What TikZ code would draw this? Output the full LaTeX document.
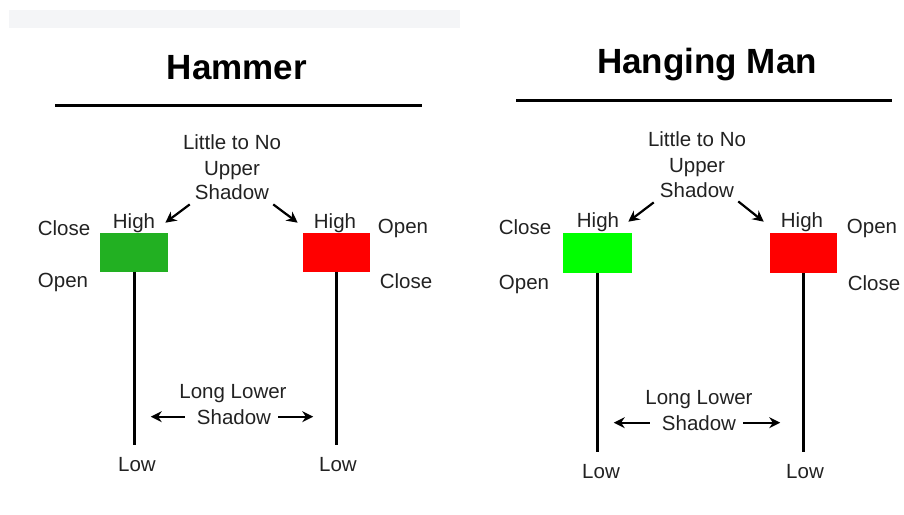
\documentclass[tikz,border=0pt]{standalone}
\usepackage{fontspec}
\setmainfont{Liberation Sans}
\usetikzlibrary{arrows.meta}
\definecolor{hammergreen}{RGB}{34,176,34}
\definecolor{hanggreen}{RGB}{0,255,0}
\definecolor{candlered}{RGB}{255,0,0}
\definecolor{bandgray}{RGB}{244,245,247}
\definecolor{textgray}{RGB}{34,34,34}
\tikzset{
  lbltext/.style={anchor=base, inner sep=0pt, text=textgray, font=\fontsize{20.5}{25}\selectfont},
  headline/.style={anchor=base, inner sep=0pt, font=\fontsize{35}{42}\selectfont\bfseries},
  candle/.style={draw=none, inner sep=0pt, minimum width=67pt, minimum height=39pt},
  wickline/.style={line width=3pt, black},
  pointer/.style={line width=2.2pt, black, -{Stealth[length=11pt,width=11pt]}},
  ruleline/.style={line width=3pt, black}
}
\begin{document}
\begin{tikzpicture}[x=1pt,y=-1pt]
\useasboundingbox (0,0) rectangle (904,514);
% Drawing grey band
\fill[bandgray] (9,10) rectangle (460,28);

% Drawing title Hammer
\node[headline] (titleHam) at (237,79) {Hammer};
\coordinate (ruleHamA) at (55,105);
\coordinate (ruleHamB) at (422,105);
\draw[ruleline] (ruleHamA) -- (ruleHamB);

% Drawing upper shadow note (Hammer)
\node[lbltext] (upHamA) at (232,149) {Little to No};
\node[lbltext] (upHamB) at (232,175) {Upper};
\node[lbltext] (upHamC) at (232,199) {Shadow};

% Drawing green candle (Hammer)
\node[candle, fill=hammergreen, minimum width=68pt] (boxHamG) at (134,252) {};
\coordinate (lowHamG) at (134,445);
\draw[wickline] (boxHamG.south) -- (lowHamG);
\node[lbltext] (highHamG) at (134,228) {High};
\node[lbltext] (closeHamG) at (64,235) {Close};
\node[lbltext] (openHamG) at (63,287) {Open};
\node[lbltext] (lowtHamG) at (137,471) {Low};

% Drawing red candle (Hammer)
\node[candle, fill=candlered] (boxHamR) at (336,252) {};
\coordinate (lowHamR) at (336,445);
\draw[wickline] (boxHamR.south) -- (lowHamR);
\node[lbltext] (highHamR) at (335,228) {High};
\node[lbltext] (openHamR) at (403,233) {Open};
\node[lbltext] (closeHamR) at (406,288) {Close};
\node[lbltext] (lowtHamR) at (338,471) {Low};

% Drawing upper arrows (Hammer)
\draw[pointer] ([shift={(-5,5)}]upHamC.south west) -- ([xshift=10pt]highHamG.east);
\draw[pointer] ([shift={(4,5)}]upHamC.south east) -- ([xshift=-16pt]highHamR.west);

% Drawing lower shadow note (Hammer)
\node[lbltext] (lwHamA) at (233,398) {Long Lower};
\node[lbltext] (lwHamB) at (234,424) {Shadow};
\draw[pointer] ([xshift=-12pt]lwHamB.west) -- ([xshift=-46pt]lwHamB.west);
\draw[pointer] ([xshift=7pt]lwHamB.east) -- ([xshift=42pt]lwHamB.east);

% Drawing title Hanging Man
\node[headline] (titleHang) at (707,73) {Hanging Man};
\coordinate (ruleHangA) at (516,100);
\coordinate (ruleHangB) at (892,100);
\draw[ruleline] (ruleHangA) -- (ruleHangB);

% Drawing upper shadow note (Hanging Man)
\node[lbltext] (upHangA) at (697,146) {Little to No};
\node[lbltext] (upHangB) at (697,172) {Upper};
\node[lbltext] (upHangC) at (697,197) {Shadow};

% Drawing green candle (Hanging Man)
\node[candle, fill=hanggreen, minimum width=69pt, minimum height=40pt] (boxHangG) at (597,253) {};
\coordinate (lowHangG) at (597,452);
\draw[wickline] (boxHangG.south) -- (lowHangG);
\node[lbltext] (highHangG) at (598,227) {High};
\node[lbltext] (closeHangG) at (525,234) {Close};
\node[lbltext] (openHangG) at (524,289) {Open};
\node[lbltext] (lowtHangG) at (601,478) {Low};

% Drawing red candle (Hanging Man)
\node[candle, fill=candlered, minimum height=40pt] (boxHangR) at (803,253) {};
\coordinate (lowHangR) at (803,452);
\draw[wickline] (boxHangR.south) -- (lowHangR);
\node[lbltext] (highHangR) at (802,227) {High};
\node[lbltext] (openHangR) at (872,233) {Open};
\node[lbltext] (closeHangR) at (874,290) {Close};
\node[lbltext] (lowtHangR) at (805,478) {Low};

% Drawing upper arrows (Hanging Man)
\draw[pointer] ([shift={(-6,5)}]upHangC.south west) -- ([xshift=9pt]highHangG.east);
\draw[pointer] ([shift={(4,4)}]upHangC.south east) -- ([xshift=-17pt]highHangR.west);

% Drawing lower shadow note (Hanging Man)
\node[lbltext] (lwHangA) at (699,404) {Long Lower};
\node[lbltext] (lwHangB) at (699,430) {Shadow};
\draw[pointer] ([xshift=-12pt]lwHangB.west) -- ([xshift=-48pt]lwHangB.west);
\draw[pointer] ([xshift=7pt]lwHangB.east) -- ([xshift=44pt]lwHangB.east);
\end{tikzpicture}
\end{document}
